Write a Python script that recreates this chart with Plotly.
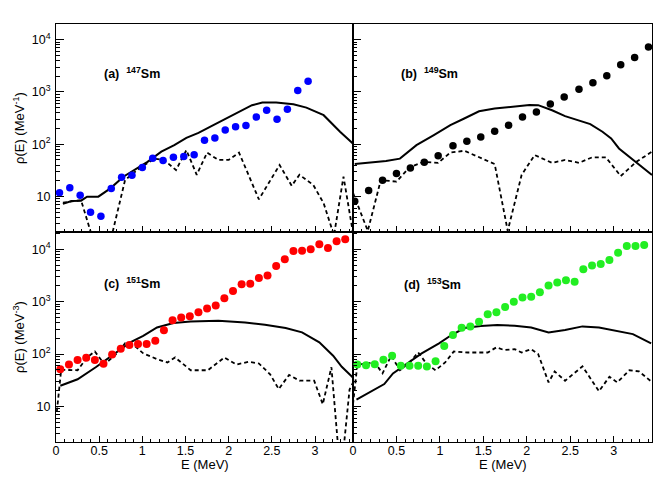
import plotly.graph_objects as go

# ---------------- data ----------------
# (a) 147Sm
E_a = [0.04, 0.16, 0.28, 0.40, 0.52, 0.64, 0.76, 0.88, 1.00, 1.12, 1.24, 1.36, 1.48,
       1.60, 1.72, 1.84, 1.96, 2.08, 2.20, 2.32, 2.44, 2.56, 2.68, 2.80, 2.92]
rho_a = [11.8, 14.6, 10.5, 5.0, 4.2, 14.2, 23.4, 25.6, 36, 54, 49, 56, 58,
         63, 119, 132, 186, 215, 228, 330, 445, 300, 465, 1060, 1600]
Es_a = [0.08, 0.18, 0.29, 0.36, 0.49, 0.63, 0.78, 0.94, 1.06, 1.22, 1.37, 1.51, 1.65,
        1.80, 1.96, 2.12, 2.27, 2.39, 2.55, 2.75, 2.90, 3.10, 3.29, 3.47]
s_a = [7.2, 8.2, 8.3, 9.9, 9.9, 14.3, 23.9, 34, 46, 72, 96, 132, 165,
       221, 305, 415, 557, 627, 627, 582, 502, 359, 173, 92]
Ed_a = [0.08, 0.29, 0.41, 0.65, 0.80, 0.94, 1.14, 1.25, 1.39, 1.51, 1.63, 1.75,
        1.88, 2.00, 2.12, 2.35, 2.59, 2.73, 2.82, 2.98, 3.10, 3.22, 3.33, 3.45]
d_a = [7.6, 8.5, 1.9, 1.9, 20.6, 32, 53, 50, 32, 77, 26, 69,
       50, 50, 69, 8.8, 40, 16, 26, 16.6, 7.4, 1.8, 24, 1.6]

# (b) 149Sm
E_b = [0.02, 0.18, 0.34, 0.50, 0.66, 0.82, 0.98, 1.15, 1.31, 1.47, 1.63,
       1.79, 1.95, 2.11, 2.27, 2.43, 2.60, 2.76, 2.92, 3.08, 3.24, 3.40]
rho_b = [8.1, 13, 20.4, 27.5, 35, 45, 60, 93, 114, 138, 177,
         230, 330, 415, 590, 800, 1120, 1500, 2050, 3300, 4580, 7240]
Es_b = [0.02, 0.19, 0.38, 0.54, 0.73, 0.93, 1.12, 1.28, 1.45, 1.63, 1.86, 2.03,
        2.13, 2.29, 2.44, 2.60, 2.73, 2.87, 2.97, 3.06, 3.18, 3.29, 3.44]
s_b = [41.7, 44, 47.5, 53, 96, 149, 231, 310, 427, 481, 533, 565,
       559, 447, 344, 288, 242, 173, 129, 83, 57.5, 41.7, 25.8]
Ed_b = [0.0, 0.17, 0.32, 0.50, 0.65, 0.81, 0.98, 1.12, 1.28, 1.43, 1.63,
        1.78, 1.94, 2.09, 2.29, 2.44, 2.60, 2.75, 2.91, 3.08, 3.26, 3.44]
d_b = [11.7, 2.2, 20.6, 19.2, 36, 46, 44, 69, 75, 57.5, 41.7,
       2.2, 25.8, 62, 44, 50, 44, 56, 56, 24.6, 46, 72]

# (c) 151Sm and (d) 153Sm
E_cd = [0.05, 0.15, 0.25, 0.35, 0.45, 0.55, 0.65, 0.75, 0.85, 0.95, 1.05, 1.15,
        1.25, 1.35, 1.45, 1.55, 1.65, 1.75, 1.85, 1.95, 2.05, 2.15, 2.25, 2.35,
        2.45, 2.55, 2.65, 2.75, 2.85, 2.95, 3.05, 3.15, 3.25, 3.35]
rho_c = [51, 63, 77, 85, 77, 65, 98, 126, 148, 155, 155, 180,
         283, 440, 500, 525, 630, 740, 840, 1160, 1600, 2140, 2200, 2830,
         3150, 4800, 6450, 9300, 9400, 10000, 12500, 10600, 14200, 15600]
Es_c = [0.05, 0.25, 0.46, 0.64, 0.86, 1.01, 1.17, 1.36, 1.56, 1.88, 2.19, 2.42,
        2.66, 2.85, 3.05, 3.21, 3.31, 3.46]
s_c = [24.8, 33, 56, 93, 167, 223, 322, 390, 420, 432, 401, 362,
       313, 259, 167, 93, 57, 33]
Ed_c = [0.01, 0.06, 0.25, 0.36, 0.45, 0.56, 0.68, 0.80, 0.91, 1.01, 1.17, 1.29,
        1.38, 1.56, 1.76, 1.95, 2.09, 2.23, 2.35, 2.48, 2.58, 2.70, 2.82, 2.99,
        3.09, 3.19, 3.27, 3.33, 3.40, 3.46]
d_c = [8, 50, 49, 86, 112, 64, 93, 160, 144, 103, 80, 69,
       86, 49, 49, 86, 63, 71, 66, 41, 21.4, 40, 31, 31,
       11, 56, 1.5, 1.5, 21, 33]

rho_d = [63, 61, 64, 78, 93, 60, 60, 60, 58, 73, 143, 230,
         316, 337, 415, 575, 630, 790, 1000, 1200, 1240, 1510, 2030, 2310,
         2560, 2390, 4140, 4880, 5250, 6250, 8630, 11600, 11600, 12100]
Es_d = [0.04, 0.19, 0.36, 0.46, 0.64, 0.79, 0.99, 1.12, 1.28, 1.47, 1.66, 1.86,
        2.05, 2.25, 2.44, 2.64, 2.83, 3.02, 3.22, 3.43]
s_d = [13.4, 18.5, 26.7, 42.7, 69, 103, 160, 223, 313, 342, 357, 347,
       322, 259, 287, 337, 322, 278, 240, 160]
Ed_d = [0.0, 0.05, 0.25, 0.34, 0.44, 0.54, 0.65, 0.75, 0.85, 0.95, 1.06, 1.16,
        1.32, 1.55, 1.65, 1.74, 1.86, 1.94, 2.05, 2.13, 2.25, 2.32, 2.44, 2.64,
        2.83, 2.95, 3.04, 3.18, 3.29, 3.43]
d_d = [11, 62.5, 69, 42.7, 93, 49, 69, 107, 64, 49, 69, 112,
       107, 107, 134, 119, 124, 107, 124, 100, 28.7, 46.6, 30.9, 58,
       19.4, 36.9, 28.7, 49, 46.6, 30]

panel_labels = ["(a)  <sup>147</sup>Sm", "(b)  <sup>149</sup>Sm",
                "(c)  <sup>151</sup>Sm", "(d)  <sup>153</sup>Sm"]
y_titles = ["ρ(E) (MeV<sup>-1</sup>)", "ρ(E) (MeV<sup>-3</sup>)"]
x_title = "E (MeV)"
y_tickvals = [10, 100, 1000, 10000]
y_ticktext = ["10", "10<sup>2</sup>", "10<sup>3</sup>", "10<sup>4</sup>"]

# ---------------- figure ----------------
W, H = 664, 478
FONT = "Liberation Sans, Arial, Helvetica, sans-serif"
fig = go.Figure()

panels = [
    (E_a, rho_a, Es_a, s_a, Ed_a, d_a, "#0000ff", 7.5, "x", "y"),
    (E_b, rho_b, Es_b, s_b, Ed_b, d_b, "#000000", 7.5, "x2", "y2"),
    (E_cd, rho_c, Es_c, s_c, Ed_c, d_c, "#ff0000", 8, "x3", "y3"),
    (E_cd, rho_d, Es_d, s_d, Ed_d, d_d, "#22ee22", 8, "x4", "y4"),
]
for (E, r, Es, s, Ed, d, col, msz, xa, ya) in panels:
    fig.add_trace(go.Scatter(x=Es, y=s, mode="lines", xaxis=xa, yaxis=ya,
                             line=dict(color="black", width=2), showlegend=False))
    fig.add_trace(go.Scatter(x=Ed, y=d, mode="lines", xaxis=xa, yaxis=ya,
                             line=dict(color="black", width=1.8, dash="4px,3px"),
                             showlegend=False))
    fig.add_trace(go.Scatter(x=E, y=r, mode="markers", xaxis=xa, yaxis=ya,
                             marker=dict(color=col, size=msz, line=dict(width=0)),
                             showlegend=False))

def px_x(p):
    return p / W

def px_y(p):
    return 1 - p / H

xl, xm, xr = 56, 353, 652
yt, ym, yb = 24, 232, 442
xdoms = [[px_x(xl), px_x(xm)], [px_x(xm), px_x(xr)]]
ydoms = [[px_y(ym), px_y(yt)], [px_y(yb), px_y(ym)]]

minor_y = [m * 10 ** k for k in range(0, 5) for m in range(2, 10)]

axis_common = dict(showline=True, linecolor="black", linewidth=1, mirror=True,
                   showgrid=False, zeroline=False, ticks="inside",
                   tickcolor="black", automargin=False,
                   tickfont=dict(family=FONT, size=12.5, color="black"))

layout = {}
for i in range(4):
    row, col = divmod(i, 2)
    suf = "" if i == 0 else str(i + 1)
    layout["xaxis" + suf] = dict(
        axis_common, domain=xdoms[col], range=[0, 3.44], anchor="y" + suf,
        dtick=0.5, tick0=0, ticklen=6, tickwidth=1,
        minor=dict(ticks="inside", ticklen=3, dtick=0.1, tick0=0, tickcolor="black"),
        showticklabels=(row == 1), ticklabelstandoff=-3)
    layout["yaxis" + suf] = dict(
        axis_common, domain=ydoms[row], type="log",
        range=[0.32, 4.3] if row == 0 else [0.32, 4.33], anchor="x" + suf,
        tickvals=y_tickvals, ticktext=y_ticktext, ticklen=8, tickwidth=1,
        minor=dict(ticks="inside", ticklen=4, tickvals=minor_y, tickcolor="black"),
        showticklabels=(col == 0), ticklabelstandoff=2)

annotations = []
lab_pos = [(102, 73), (399, 73), (102, 283), (402, 284)]
for lab, (lx, ly) in zip(panel_labels, lab_pos):
    annotations.append(dict(text="<b>" + lab + "</b>", xref="paper", yref="paper",
                            x=px_x(lx), y=px_y(ly), xanchor="left", yanchor="middle",
                            showarrow=False, font=dict(family=FONT, size=12.5, color="black")))
for row, t in enumerate(y_titles):
    yc = (yt + ym) / 2 if row == 0 else (ym + yb) / 2
    annotations.append(dict(text=t, xref="paper", yref="paper", x=px_x(19), y=px_y(yc),
                            xanchor="center", yanchor="middle", textangle=-90,
                            showarrow=False, font=dict(family=FONT, size=13, color="black")))
for col in range(2):
    xc = (xl + xm) / 2 if col == 0 else (xm + xr) / 2
    annotations.append(dict(text=x_title, xref="paper", yref="paper", x=px_x(xc), y=px_y(464),
                            xanchor="center", yanchor="middle", showarrow=False,
                            font=dict(family=FONT, size=13, color="black")))

fig.update_layout(width=W, height=H, margin=dict(l=0, r=0, t=0, b=0),
                  paper_bgcolor="white", plot_bgcolor="white",
                  font=dict(family=FONT, color="black"),
                  annotations=annotations, **layout)

fig.write_html("out.html", config={"displayModeBar": False},
               post_script="document.body.style.margin='0';document.body.style.padding='0';")
